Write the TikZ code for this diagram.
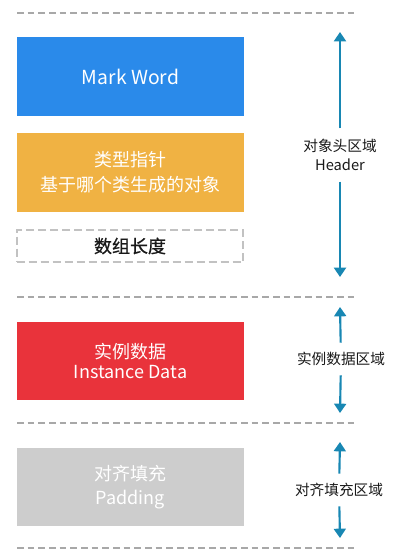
\documentclass[tikz,border=0pt]{standalone}
\usepackage{fontspec}
\setmainfont{Noto Sans CJK SC}
\newfontfamily\cjkheavy{Noto Sans CJK SC}[FakeBold=0.8]
\usepackage{xcolor}
\usepackage{tikz}
\usetikzlibrary{arrows.meta,positioning}

\definecolor{markblue}{HTML}{2A8AEA}
\definecolor{klassorange}{HTML}{F0B243}
\definecolor{instred}{HTML}{E9333B}
\definecolor{padgray}{HTML}{CDCDCD}
\definecolor{arrowteal}{HTML}{1887B3}
\definecolor{sepgray}{HTML}{A8A8A8}

\begin{document}
\begin{tikzpicture}[
  x=0.75pt, y=-0.75pt,
  field/.style={rectangle, minimum width=170pt, minimum height=59pt, inner sep=0pt,
                text=white, font=\fontsize{13.5}{18.5}\selectfont, align=center},
  header/.style={field, fill=markblue},
  klass/.style={field, fill=klassorange},
  arrlen/.style={field, minimum height=24pt, draw=sepgray!70, dash pattern=on 6pt off 3pt,
                 line width=1.4pt, text=black!90, font=\cjkheavy\fontsize{13.5}{16}\selectfont},
  inst/.style={field, fill=instred},
  pad/.style={field, fill=padgray},
  region/.style={font=\fontsize{11}{14}\selectfont, align=center, text=black!90, inner sep=7pt},
  arrow/.style={-{Triangle[length=7pt,width=9pt]}, arrowteal, line width=1.6pt},
  sep/.style={sepgray, line width=0.9pt, dash pattern=on 5pt off 3pt},
]
\useasboundingbox (0,0) rectangle (402,557);

%% --- Separators ---
\foreach \y in {13,297,423,548}
  \draw[sep] (17,\y) -- (358,\y);

%% --- Object header ---
\node[header, font=\fontsize{14.5}{18}\selectfont] (mark) at (130.5,76.5) {Mark Word};
\node[klass]  (klass) at (130.5,172.5) {类型指针\\基于哪个类生成的对象};
\node[arrlen] (alen)  at (130,246) {数组长度};

%% --- Instance data ---
\node[inst, font=\fontsize{13.5}{15.5}\selectfont] (idata) at (130.5,361) {实例数据\\Instance Data};

%% --- Padding ---
\node[pad, font=\fontsize{13.5}{17.5}\selectfont] (padd) at (130.5,487) {对齐填充\\Padding};

%% --- Region labels ---
\node[region, inner sep=8pt] (hlab) at (340,155) {对象头区域\\Header};
\node[region] (ilab) at (341,359) {实例数据区域};
\node[region] (plab) at (339,490) {对齐填充区域};

\coordinate (htop) at (340,32);
\coordinate (hbot) at (340,277);
\coordinate (itop) at (340,307);
\coordinate (ibot) at (340,413);
\coordinate (ptop) at (340,442);
\coordinate (pbot) at (340,538);

\draw[arrow] (hlab) -- (htop);
\draw[arrow] (hlab) -- (hbot);
\draw[arrow] (ilab) -- (itop);
\draw[arrow] (ilab) -- (ibot);
\draw[arrow] (plab) -- (ptop);
\draw[arrow] (plab) -- (pbot);

\end{tikzpicture}
\end{document}
